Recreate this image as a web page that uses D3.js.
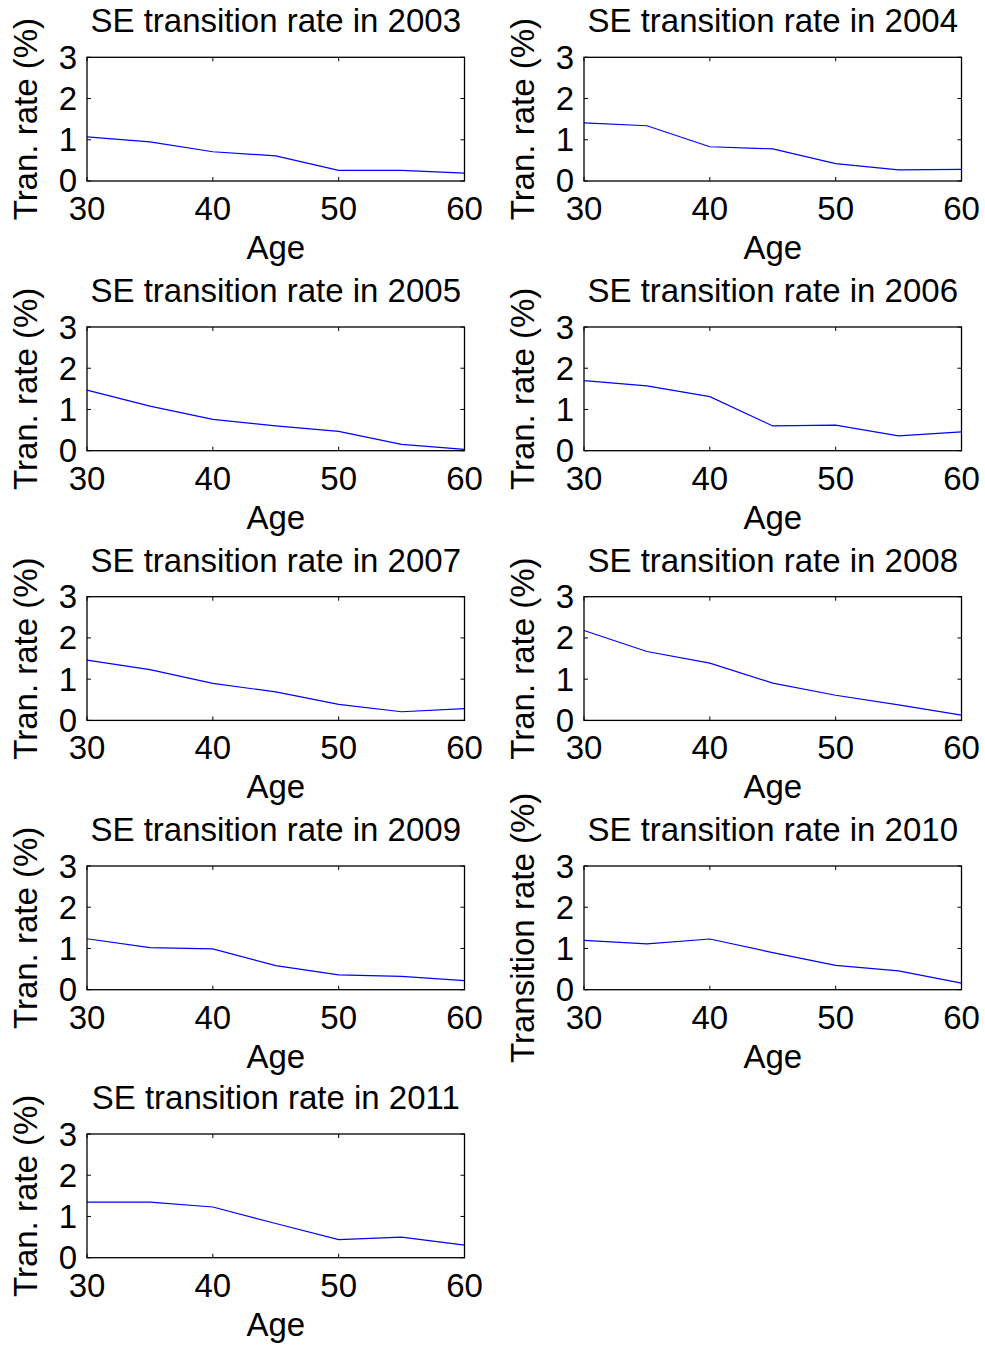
<!DOCTYPE html>
<html>
<head>
<meta charset="utf-8">
<script src="https://cdn.jsdelivr.net/npm/d3@7"></script>
<style>
  html, body { margin: 0; padding: 0; background: #fff; }
  svg { display: block; }
  text { font-family: "Liberation Sans", Arial, Helvetica, sans-serif; fill: #000; }
</style>
</head>
<body>
<script>
// ---- data ----
const ages = [30, 35, 40, 45, 50, 55, 60];
const years = [2003, 2004, 2005, 2006, 2007, 2008, 2009, 2010, 2011];
const rate2003 = [1.07, 0.95, 0.71, 0.61, 0.26, 0.26, 0.19];
const rate2004 = [1.41, 1.34, 0.83, 0.78, 0.42, 0.27, 0.28];
const rate2005 = [1.47, 1.08, 0.76, 0.60, 0.47, 0.155, 0.03];
const rate2006 = [1.70, 1.57, 1.31, 0.60, 0.62, 0.36, 0.455];
const rate2007 = [1.46, 1.23, 0.90, 0.69, 0.39, 0.21, 0.285];
const rate2008 = [2.18, 1.67, 1.39, 0.905, 0.61, 0.375, 0.13];
const rate2009 = [1.235, 1.02, 0.99, 0.585, 0.36, 0.325, 0.22];
const rate2010 = [1.195, 1.11, 1.23, 0.90, 0.59, 0.455, 0.16];
const rate2011 = [1.35, 1.35, 1.23, 0.83, 0.44, 0.50, 0.305];
const xTicks = [30, 40, 50, 60];
const yTicks = [0, 1, 2, 3];
const yLabels = ["Tran. rate (%)", "Tran. rate (%)", "Tran. rate (%)", "Tran. rate (%)",
                 "Tran. rate (%)", "Tran. rate (%)", "Tran. rate (%)", "Transition rate (%)",
                 "Tran. rate (%)"];
const series = [rate2003, rate2004, rate2005, rate2006, rate2007, rate2008, rate2009, rate2010, rate2011];

// ---- layout ----
const W = 985, H = 1346;
const colX = [87, 584];
const rowY = [57.3, 327, 596.7, 866, 1134];
const pw = 377.5, ph = 123.7;
const fs = 33;

const svg = d3.select("body").append("svg").attr("width", W).attr("height", H);

const x = d3.scaleLinear().domain([30, 60]).range([0, pw]);
const y = d3.scaleLinear().domain([0, 3]).range([ph, 0]);

series.forEach((vals, i) => {
  const col = i % 2, row = Math.floor(i / 2);
  const g = svg.append("g").attr("transform", `translate(${colX[col]},${rowY[row]})`);

  // inward ticks on all four sides (MATLAB style)
  const tl = 4;
  const axB = d3.axisBottom(x).tickValues(xTicks).tickSize(0).tickPadding(0).tickFormat("");
  g.append("g").selectAll("line.xt").data(xTicks).enter().append("line")
    .attr("x1", d => x(d)).attr("x2", d => x(d)).attr("y1", ph).attr("y2", ph - tl)
    .attr("stroke", "#000").attr("stroke-width", 1);
  g.append("g").selectAll("line.xt2").data(xTicks).enter().append("line")
    .attr("x1", d => x(d)).attr("x2", d => x(d)).attr("y1", 0).attr("y2", tl)
    .attr("stroke", "#000").attr("stroke-width", 1);
  g.append("g").selectAll("line.yt").data(yTicks).enter().append("line")
    .attr("x1", 0).attr("x2", tl).attr("y1", d => y(d)).attr("y2", d => y(d))
    .attr("stroke", "#000").attr("stroke-width", 1);
  g.append("g").selectAll("line.yt2").data(yTicks).enter().append("line")
    .attr("x1", pw).attr("x2", pw - tl).attr("y1", d => y(d)).attr("y2", d => y(d))
    .attr("stroke", "#000").attr("stroke-width", 1);

  // data line
  const line = d3.line().x((d, j) => x(ages[j])).y(d => y(d));
  g.append("path").datum(vals).attr("d", line)
    .attr("fill", "none").attr("stroke", "#0000ff").attr("stroke-width", 1.2);

  // box
  g.append("rect").attr("x", 0).attr("y", 0).attr("width", pw).attr("height", ph)
    .attr("fill", "none").attr("stroke", "#000").attr("stroke-width", 1.3);

  // x tick labels
  g.selectAll("text.xl").data(xTicks).enter().append("text")
    .attr("x", d => x(d)).attr("y", ph + 39).attr("text-anchor", "middle")
    .attr("font-size", fs).text(d => d);
  // y tick labels
  g.selectAll("text.yl").data(yTicks).enter().append("text")
    .attr("x", -10).attr("y", d => y(d) + 11.5).attr("text-anchor", "end")
    .attr("font-size", fs).text(d => d);

  // x label
  g.append("text").attr("x", pw / 2).attr("y", ph + 78).attr("text-anchor", "middle")
    .attr("font-size", fs).text("Age");
  // y label
  g.append("text").attr("transform", `translate(-50,${ph / 2}) rotate(-90)`)
    .attr("text-anchor", "middle").attr("font-size", fs).text(yLabels[i]);
  // title
  g.append("text").attr("x", pw / 2 + 0).attr("y", -25).attr("text-anchor", "middle")
    .attr("font-size", fs).text("SE transition rate in " + years[i]);
});
</script>
</body>
</html>
